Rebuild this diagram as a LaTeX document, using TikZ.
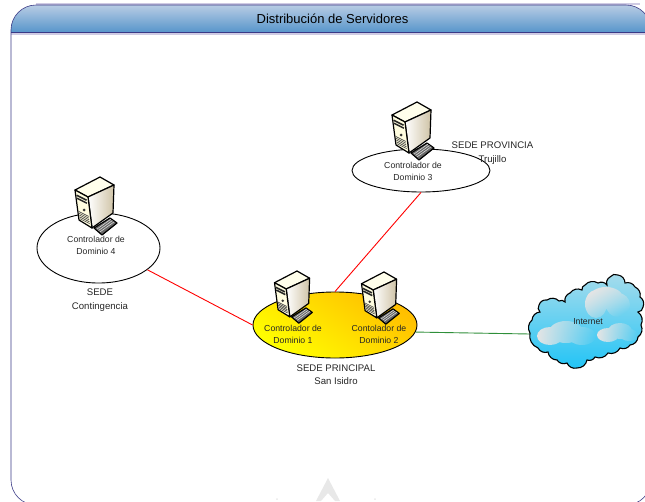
\documentclass[tikz,border=0pt]{standalone}
\usepackage{fontspec}
\setmainfont{Liberation Sans}
\usetikzlibrary{shapes.geometric,fadings}
\definecolor{marco}{HTML}{3A3A86}
\definecolor{halo}{HTML}{CFCBE4}
\definecolor{verde}{HTML}{2F8F3A}
\definecolor{cabeza}{HTML}{B8CCE4}
\definecolor{cabezab}{HTML}{5896CB}
\definecolor{crema}{HTML}{CFC3A6}
\definecolor{naranja}{HTML}{FFBE00}
\definecolor{cieloa}{HTML}{A6DCEC}
\definecolor{cielob}{HTML}{22C4F6}
\tikzset{
    rotulo/.style={font={\fontsize{8.7}{12}\selectfont},align=center,text=black!85},
    sede/.style={font={\fontsize{9.6}{13.5}\selectfont},align=center,text=black!85},
    anillo/.style={draw,ellipse,inner sep=0pt,line width=0.9pt},
    enlace/.style={line width=0.9pt},
    pics/servidor/.style={code={
        % torre
        \fill[white!92!yellow,draw=black,line width=1.2pt,line join=round](0,0)--(-25,13)--(-12,20)--(14,8)--cycle;
        \shade[left color=white,right color=crema,draw=black,line width=1.2pt,line join=round](-12,20)--(14,8)--(13,36)--(-8,51)--cycle;
        \fill[white!88!yellow,draw=black,line width=1.2pt,line join=round](-25,13)--(-12,20)--(-8,51)--(-21,43)--cycle;
        \foreach \v in {0.14,0.24}
            \draw[line width=1.5pt,black!85]({-24+4*\v},{14+30*\v})--({-14+4*\v},{19+30*\v});
        \fill[black!80]({-18+4*.55},{16.5+30*.55}) circle(1.5);
        \foreach \v in {0.68,0.74,0.80,0.86,0.92}
            \draw[line width=0.6pt,black!75]({-24+4*\v},{14+30*\v})--({-14+4*\v},{19+30*\v});
        % teclado
        \fill[black!60,draw=black,line width=1.2pt,line join=round](-6,51)--(10,41)--(17,46)--(2,58)--cycle;
        \foreach \v in {0.25,0.5,0.75}
            \draw[black!15,line width=0.6pt]({-6+7*\v+1},{51+5*\v})--({10+7*\v-1},{41+5*\v});
    }}
}
\begin{document}
\begin{tikzpicture}[x=1pt,y=-1pt]
\clip(0,0) rectangle (645,501);
\path(0,0) rectangle (645,501);

% marco
\draw[halo,line width=2.4pt](36,4)--(640,4) (11,33.5)--(645,33.5);
\shade[top color=cabeza,bottom color=cabezab]
    (11,32)[rounded corners=25]--(11,5)--(651,5)[sharp corners]--(651,32)--cycle;
\draw[marco,semithick](11,32)--(645,32);
\draw[marco,semithick,rounded corners=25](11,5) rectangle (651,505);
\node[font={\fontsize{13}{15}\selectfont}] (titulo) at (332.5,18.5) {Distribución de Servidores};

% marca de agua
\fill[black!9](328,478)--(340,501)--(335,501)--(328,493)--(321,501)--(316,501)--cycle;
\fill[black!9](277,499) circle(1) (375,499) circle(1);

% anillos
\node[anillo,minimum width=123pt,minimum height=70pt] (dominio4) at (98.5,248) {};
\node[anillo,minimum width=138pt,minimum height=43pt] (dominio3) at (421,170.5) {};
\node[anillo,minimum width=164pt,minimum height=66pt,top color=naranja,bottom color=yellow,shading angle=-35] (principal) at (335,325) {};

% enlaces
\coordinate (nube) at (530,334);
\draw[enlace,red](dominio4.-24)--(principal.180);
\draw[enlace,red](dominio3.south)--(principal.north);
\draw[enlace,verde](principal.-5)--(nube);

% nube
\shade[top color=cieloa,bottom color=cielob,draw=black,line width=1.1pt]
    (530,333) to[bend left=40] (532,320) to[bend left=40] (540,312) to[bend left=40] (539,305)
    to[bend left=40] (547,300) to[bend left=40] (559,301) to[bend left=40] (565,302)
    to[bend left=40] (570,293) to[bend left=40] (582,290) to[bend left=40] (585,285)
    to[bend left=40] (598,283) to[bend left=40] (607,285) to[bend left=40] (610,277)
    to[bend left=40] (618,275) to[bend left=40] (625,283) to[bend left=40] (635,287)
    to[bend left=40] (640,297) to[bend left=40] (643,307) to[bend left=40] (638,312)
    to[bend left=40] (641,325) to[bend left=40] (638,337) to[bend left=40] (630,345)
    to[bend left=40] (620,348) to[bend left=40] (608,353) to[bend left=40] (595,357)
    to[bend left=40] (587,360) to[bend left=40] (577,368) to[bend left=40] (567,363)
    to[bend left=40] (557,360) to[bend left=40] (548,352) to[bend left=40] (538,348)
    to[bend left=40] cycle;
\fill[black!10,path fading=east]
    (550,336) ellipse(13 and 9) (566,332) ellipse(17 and 11) (582,336) ellipse(14 and 9);
\fill[black!10,path fading=east,fading angle=-45]
    (596,304) ellipse(11 and 14) (606,298) ellipse(17 and 11) (618,305) ellipse(12 and 12);
\fill[black!10,path fading=east]
    (608,335) ellipse(11 and 7) (620,331) ellipse(12 and 8) (629,335) ellipse(9 and 6);

% servidores
\path (100,177) pic {servidor};
\path (417,102) pic {servidor};
\path (297,271) pic[scale=.9] {servidor};
\path (384,272) pic[scale=.9] {servidor};

% rotulos
\node[rotulo] (rot4) at (96,245) {Controlador de\\Dominio 4};
\node[rotulo] (rot3) at (413,171) {Controlador de\\Dominio 3};
\node[rotulo] (rot1) at (293,334) {Controlador de\\Dominio 1};
\node[rotulo] (rot2) at (379,334) {Contolador de\\Dominio 2};
\node[rotulo] (rotnube) at (588,322) {Internet};
\node[sede] (sede4) at (100,300) {SEDE\\Contingencia};
\node[sede] (sede3) at (492.5,153) {SEDE PROVINCIA\\Trujillo};
\node[sede] (sede1) at (336,374.5) {SEDE PRINCIPAL\\San Isidro};
\end{tikzpicture}
\end{document}
